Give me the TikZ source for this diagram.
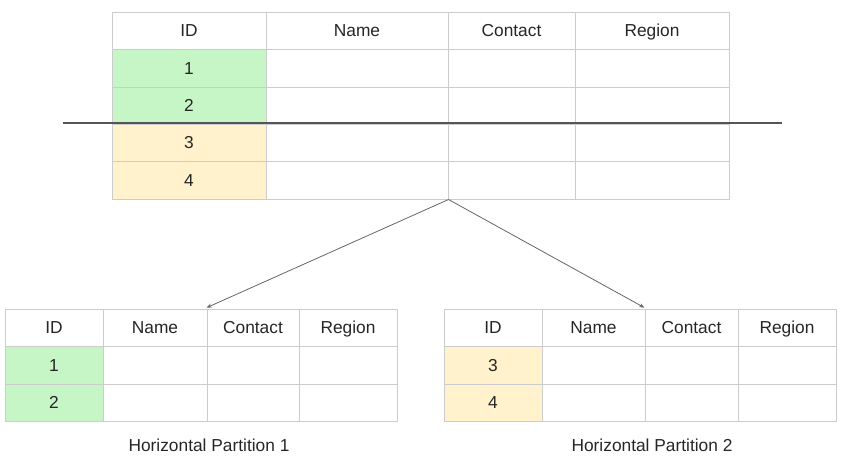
\documentclass[tikz,border=0pt]{standalone}
\usepackage{fontspec}
\setmainfont{Liberation Sans}
\usetikzlibrary{arrows.meta}
\definecolor{gridc}{HTML}{CCCCCC}
\definecolor{greenc}{HTML}{C6F6C6}
\definecolor{yellowc}{HTML}{FFF2CC}
\definecolor{linec}{HTML}{555555}
\definecolor{arrc}{HTML}{666666}
\tikzset{
  cellst/.style={draw=gridc, line width=0.75pt, rectangle, inner sep=0pt, font=\fontsize{13}{15}\selectfont, text=black!85, text height=11.6pt, text depth=2.6pt},
  cutline/.style={draw=linec, line width=1.5pt},
  arr/.style={draw=arrc, line width=0.6pt, -{Stealth[length=4pt,width=3pt]}},
  caption/.style={font=\fontsize{13}{15}\selectfont, text=black!85, inner sep=0pt}
}
\newcommand{\cellbox}[7]{%
  \pgfmathsetmacro{\cw}{(#4-#2)*0.75}\pgfmathsetmacro{\ch}{(#5-#3)*0.75}%
  \node[cellst, fill=#6, minimum width=\cw pt, minimum height=\ch pt] (#1) at ({(#2+#4)/2},{(#3+#5)/2}) {#7};}
\begin{document}
\begin{tikzpicture}[x=0.75pt,y=-0.75pt]
\useasboundingbox (0,0) rectangle (853,472);
% main table
\cellbox{m00}{112}{12}{266}{49.5}{white}{ID}
\cellbox{m01}{266}{12}{448}{49.5}{white}{Name}
\cellbox{m02}{448}{12}{575}{49.5}{white}{Contact}
\cellbox{m03}{575}{12}{729}{49.5}{white}{Region}
\cellbox{m10}{112}{49.5}{266}{87}{greenc}{1}
\cellbox{m11}{266}{49.5}{448}{87}{white}{}
\cellbox{m12}{448}{49.5}{575}{87}{white}{}
\cellbox{m13}{575}{49.5}{729}{87}{white}{}
\cellbox{m20}{112}{87}{266}{124}{greenc}{2}
\cellbox{m21}{266}{87}{448}{124}{white}{}
\cellbox{m22}{448}{87}{575}{124}{white}{}
\cellbox{m23}{575}{87}{729}{124}{white}{}
\cellbox{m30}{112}{124}{266}{161.5}{yellowc}{3}
\cellbox{m31}{266}{124}{448}{161.5}{white}{}
\cellbox{m32}{448}{124}{575}{161.5}{white}{}
\cellbox{m33}{575}{124}{729}{161.5}{white}{}
\cellbox{m40}{112}{161.5}{266}{199}{yellowc}{4}
\cellbox{m41}{266}{161.5}{448}{199}{white}{}
\cellbox{m42}{448}{161.5}{575}{199}{white}{}
\cellbox{m43}{575}{161.5}{729}{199}{white}{}
% cut line
\coordinate (cutL) at (63,123);
\coordinate (cutR) at (782,123);
\draw[cutline] (cutL) -- (cutR);
% left table
\cellbox{a00}{5}{309}{103}{346.5}{white}{ID}
\cellbox{a01}{103}{309}{207}{346.5}{white}{Name}
\cellbox{a02}{207}{309}{299}{346.5}{white}{Contact}
\cellbox{a03}{299}{309}{397}{346.5}{white}{Region}
\cellbox{a10}{5}{346.5}{103}{384}{greenc}{1}
\cellbox{a11}{103}{346.5}{207}{384}{white}{}
\cellbox{a12}{207}{346.5}{299}{384}{white}{}
\cellbox{a13}{299}{346.5}{397}{384}{white}{}
\cellbox{a20}{5}{384}{103}{421}{greenc}{2}
\cellbox{a21}{103}{384}{207}{421}{white}{}
\cellbox{a22}{207}{384}{299}{421}{white}{}
\cellbox{a23}{299}{384}{397}{421}{white}{}
% right table
\cellbox{b00}{444}{309}{542}{346.5}{white}{ID}
\cellbox{b01}{542}{309}{645}{346.5}{white}{Name}
\cellbox{b02}{645}{309}{738}{346.5}{white}{Contact}
\cellbox{b03}{738}{309}{836}{346.5}{white}{Region}
\cellbox{b10}{444}{346.5}{542}{384}{yellowc}{3}
\cellbox{b11}{542}{346.5}{645}{384}{white}{}
\cellbox{b12}{645}{346.5}{738}{384}{white}{}
\cellbox{b13}{738}{346.5}{836}{384}{white}{}
\cellbox{b20}{444}{384}{542}{421}{yellowc}{4}
\cellbox{b21}{542}{384}{645}{421}{white}{}
\cellbox{b22}{645}{384}{738}{421}{white}{}
\cellbox{b23}{738}{384}{836}{421}{white}{}
% arrows
\draw[arr] (m41.south east) -- ([yshift=0.6pt]a02.north west);
\draw[arr] (m41.south east) -- ([yshift=0.6pt]b02.north west);
% captions
\node[caption] (capA) at (209,445) {Horizontal Partition 1};
\node[caption] (capB) at (652,445) {Horizontal Partition 2};
\end{tikzpicture}
\end{document}
